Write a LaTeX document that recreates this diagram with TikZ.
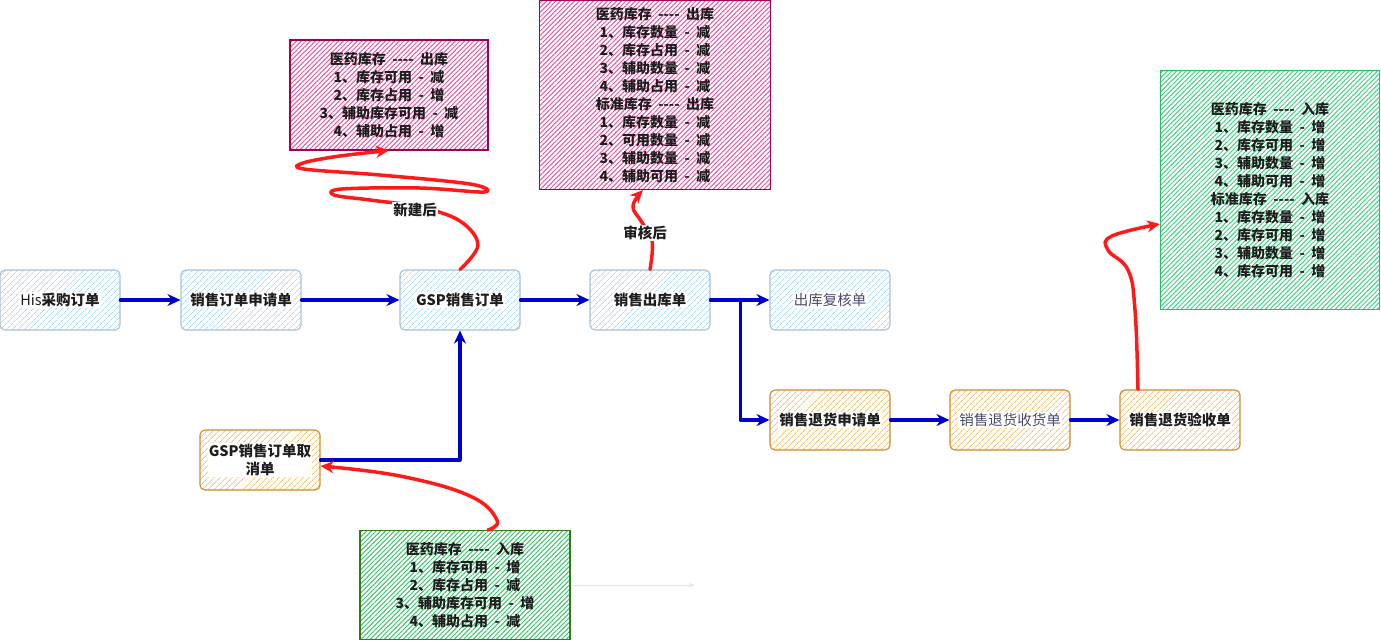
\documentclass[tikz,border=0pt]{standalone}
\usepackage{fontspec}
\setmainfont{Noto Sans CJK SC}
\usetikzlibrary{arrows.meta,patterns.meta}
\definecolor{blufill}{HTML}{A5D8FF}
\definecolor{bluborder}{HTML}{A9C0D4}
\definecolor{orgfill}{HTML}{F7C46C}
\definecolor{orgborder}{HTML}{D08A2B}
\definecolor{pinkfill}{HTML}{E8589F}
\definecolor{pinkborder}{HTML}{A3004F}
\definecolor{grnfill}{HTML}{40D27F}
\definecolor{grnborder}{HTML}{1FC264}
\definecolor{grnfillb}{HTML}{3CC46C}
\definecolor{grnborderb}{HTML}{2F7D12}
\definecolor{bluline}{HTML}{0000CC}
\definecolor{redline}{HTML}{FF1A1A}
\definecolor{txtdark}{HTML}{1E1E1E}
\definecolor{txtdim}{HTML}{4B4B6B}

\begin{document}
\begin{tikzpicture}[x=1pt,y=-1pt,
	lbl/.style={fill=white,inner sep=1pt,align=center,text=txtdark,font=\bfseries\fontsize{14.5}{18}\selectfont},
	card/.style={rounded corners=5pt,line width=1.1pt,minimum width=120pt,minimum height=60pt,label={[lbl]center:#1}},
	blunode/.style={card={#1},draw=bluborder,pattern={Lines[angle=45,distance=4pt,line width=0.8pt]},pattern color=blufill},
	orgnode/.style={card={#1},draw=orgborder,pattern={Lines[angle=45,distance=4pt,line width=1pt]},pattern color=orgfill},
	stockbox/.style={line width=1.1pt,align=center,font=\bfseries\fontsize{14}{18}\selectfont,text=txtdark,pattern={Lines[angle=45,distance=3.3pt,line width=1pt]}},
	flow/.style={draw=bluline,line width=3.2pt,line cap=round,line join=round,-{Stealth[length=13pt,width=12pt]}},
	hint/.style={draw=redline,line width=3.5pt,line cap=round,line join=round,-{Stealth[length=13pt,width=12pt]}},
	]
	\useasboundingbox (0,0) rectangle (1381,641);

	\node[blunode={{\mdseries His}采购订单}] (his) at (60,300) {};
	\node[blunode={销售订单申请单}] (sqd) at (241,300) {};
	\node[blunode={GSP销售订单}] (gsp) at (460,300) {};
	\node[blunode={销售出库单}] (ckd) at (650,300) {};
	\node[blunode={{\mdseries\color{txtdim}出库复核单}}] (fhd) at (830,300) {};
	\node[orgnode={销售退货申请单}] (thsq) at (830,420) {};
	\node[orgnode={{\mdseries\color{txtdim}销售退货收货单}}] (thsh) at (1010,420) {};
	\node[orgnode={销售退货验收单}] (thys) at (1180,420) {};
	\node[orgnode={GSP销售订单取\\消单}] (qxd) at (260,460) {};

	\node[stockbox,draw=pinkborder,pattern color=pinkfill,minimum width=198pt,minimum height=110pt] (outa) at (389,95) {医药库存 \ -{}-{}-{}- \ 出库\\1、库存可用 \ - \ 减\\2、库存占用 \ - \ 增\\3、辅助库存可用 \ - \ 减\\4、辅助占用 \ - \ 增};
	\node[stockbox,draw=pinkborder,pattern color=pinkfill,minimum width=231pt,minimum height=189pt] (outb) at (655,95) {医药库存 \ -{}-{}-{}- \ 出库\\1、库存数量 \ - \ 减\\2、库存占用 \ - \ 减\\3、辅助数量 \ - \ 减\\4、辅助占用 \ - \ 减\\标准库存 \ -{}-{}-{}- \ 出库\\1、库存数量 \ - \ 减\\2、可用数量 \ - \ 减\\3、辅助数量 \ - \ 减\\4、辅助可用 \ - \ 减};
	\node[stockbox,draw=grnborder,pattern color=grnfill,minimum width=219pt,minimum height=239pt] (ina) at (1270,190) {医药库存 \ -{}-{}-{}- \ 入库\\1、库存数量 \ - \ 增\\2、库存可用 \ - \ 增\\3、辅助数量 \ - \ 增\\4、辅助可用 \ - \ 增\\标准库存 \ -{}-{}-{}- \ 入库\\1、库存数量 \ - \ 增\\2、库存可用 \ - \ 增\\3、辅助数量 \ - \ 增\\4、库存可用 \ - \ 增};
	\node[stockbox,draw=grnborderb,pattern color=grnfillb,minimum width=210pt,minimum height=109pt] (inb) at (465,585) {医药库存 \ -{}-{}-{}- \ 入库\\1、库存可用 \ - \ 增\\2、库存占用 \ - \ 减\\3、辅助库存可用 \ - \ 增\\4、辅助占用 \ - \ 减};
	\coordinate (faint) at (695,585);

	\draw[flow] (his) -- (sqd);
	\draw[flow] (sqd) -- (gsp);
	\draw[flow] (gsp) -- (ckd);
	\draw[flow] (ckd) -- (fhd);
	\draw[flow] (ckd.east) -- ++(30,0) |- (thsq.west);
	\draw[flow] (thsq) -- (thsh);
	\draw[flow] (thsh) -- (thys);
	\draw[flow] (qxd.east) -| (gsp.south);
	\draw[black!10,line width=1pt,-{Stealth[length=6pt]}] (inb.east) -- (faint);

	\draw[hint] plot[smooth,tension=0.6] coordinates {(gsp.north) (478,245) (460,221) (420,207) (370,200) (334,195) (342,189) (420,188) (484,192) (470,184) (380,175) (304,169) (303,163) (340,156) (outa.south)};
	\draw[hint] plot[smooth,tension=0.7] coordinates {(ckd.north) (652,240) (641,221) (633,206) ([xshift=-12pt]outb.south)};
	\draw[hint] plot[smooth,tension=0.7] coordinates {([xshift=-42pt]thys.north) (1135,310) (1128,270) (1108,250) (1112,236) ([yshift=-34pt]ina.west)};
	\draw[hint] plot[smooth,tension=0.7] coordinates {([xshift=23pt]inb.north) (497,520) (470,496) (400,476) ([yshift=-6pt]qxd.east)};

	\node[lbl] (newafter) at (415,210) {新建后};
	\node[lbl] (chkafter) at (645,233) {审核后};
\end{tikzpicture}
\end{document}
